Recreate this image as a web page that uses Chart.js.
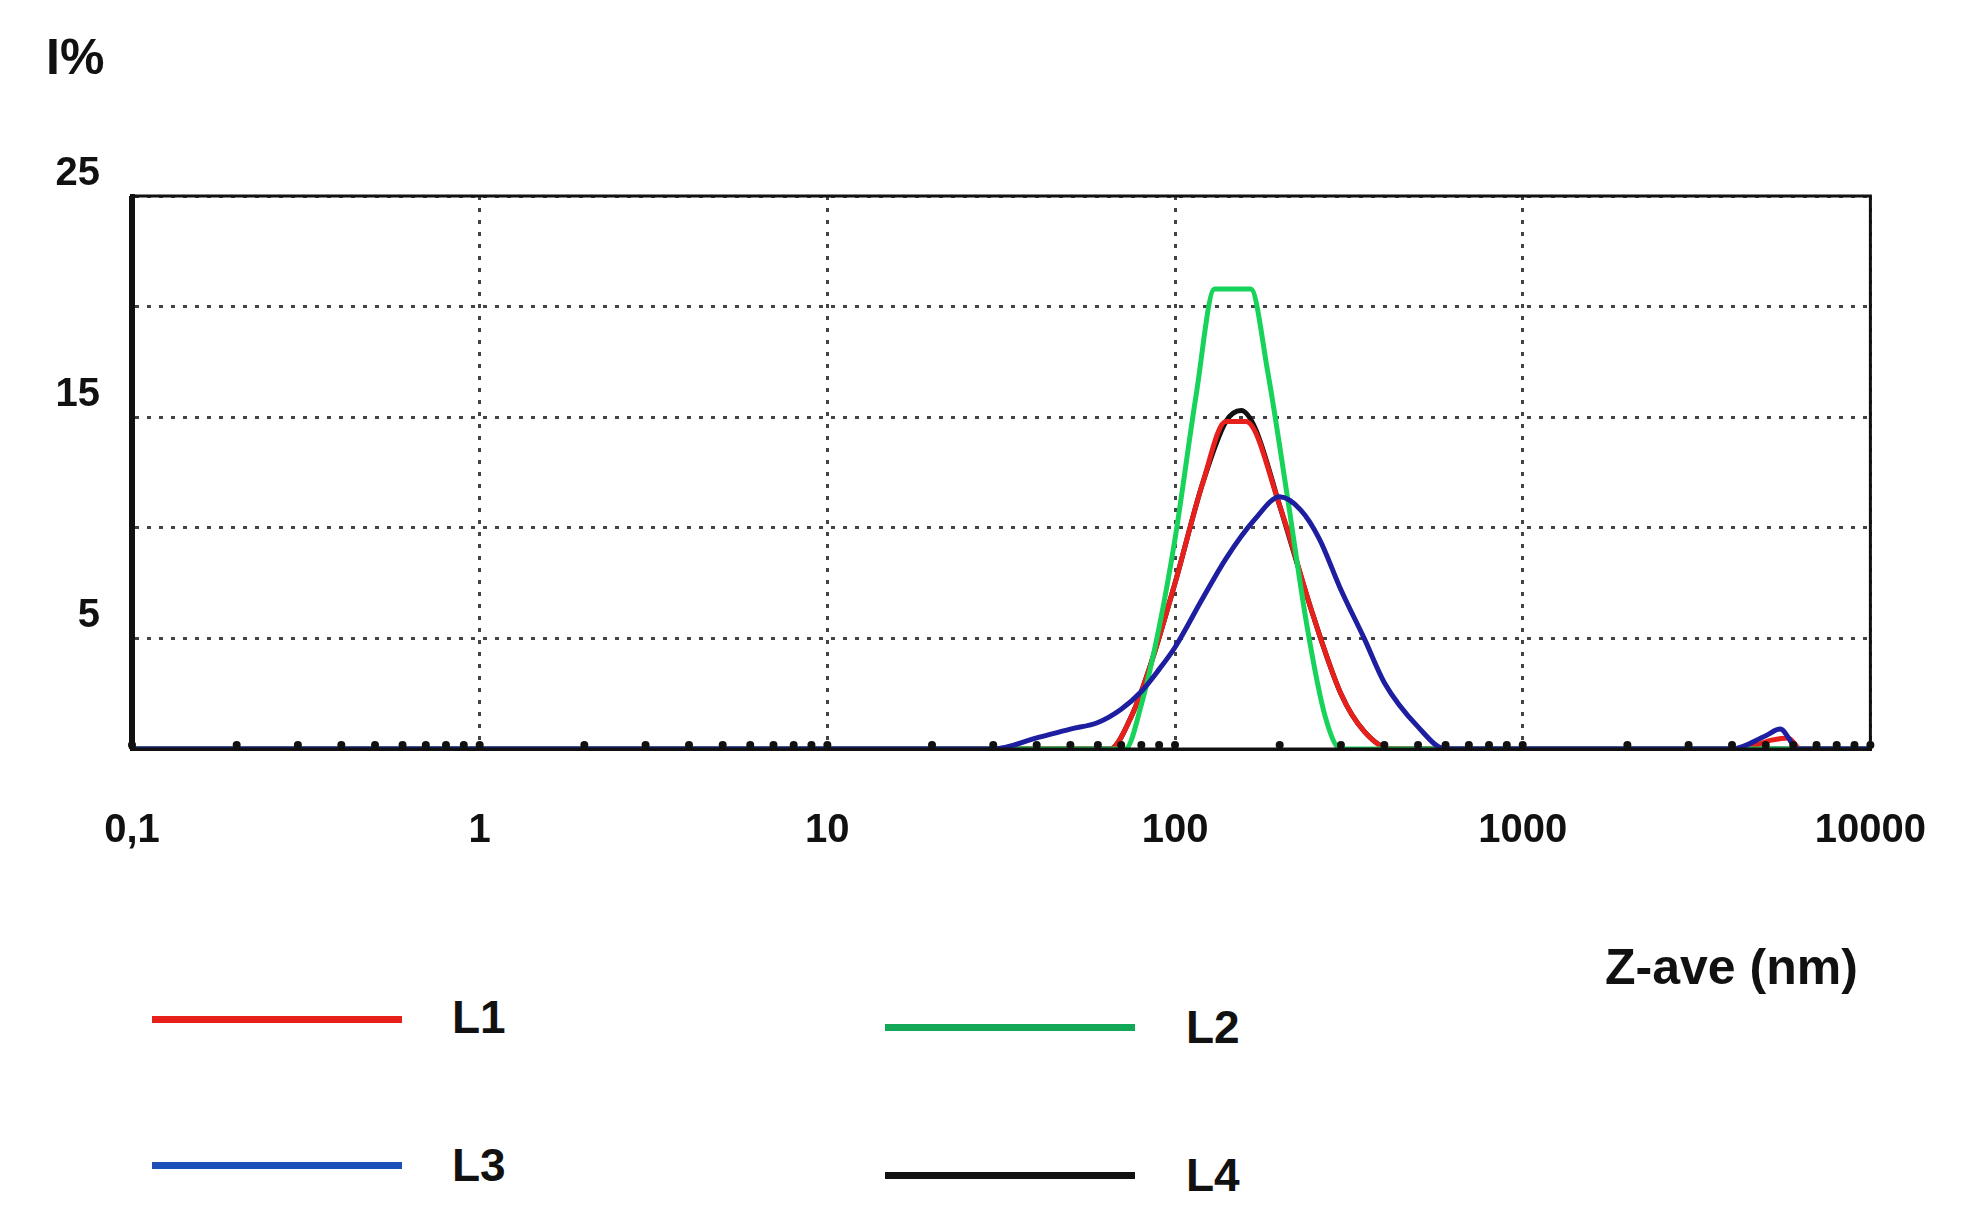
<!DOCTYPE html>
<html>
<head>
  <meta charset="UTF-8">
  <title>Z-ave distribution</title>
  <script src="https://cdn.jsdelivr.net/npm/chart.js"></script>
  <style>
    body { margin: 0; background: #fff; font-family: 'Liberation Sans', Arial, sans-serif; font-weight: bold; }
    #wrap { position: absolute; left: 0; top: 0; width: 1984px; height: 900px; }
    .lbl { position: absolute; font-size: 46px; color: #111; }
    .leg { position: absolute; height: 7px; width: 250px; }
  </style>
</head>
<body>
  <div id="wrap"><canvas id="c"></canvas></div>
  <div class="lbl" style="left:46px;top:28px;font-size:50px;">I%</div>
  <div class="lbl" style="left:1605px;top:938px;font-size:50px;">Z-ave (nm)</div>

  <div class="leg" style="left:152px;top:1016px;background:#e8201c"></div>
  <div class="lbl" style="left:452px;top:990px;">L1</div>
  <div class="leg" style="left:885px;top:1024px;background:#13a858"></div>
  <div class="lbl" style="left:1186px;top:1000px;">L2</div>
  <div class="leg" style="left:152px;top:1162px;background:#1d4fb8"></div>
  <div class="lbl" style="left:452px;top:1138px;">L3</div>
  <div class="leg" style="left:885px;top:1172px;background:#111"></div>
  <div class="lbl" style="left:1186px;top:1148px;">L4</div>

  <script>
    // sizes in nm, intensity in %
    const l1X = [0.1, 65, 75, 85, 100, 120, 140, 160, 200, 250, 300, 350, 420, 4200, 5200, 5800, 6300, 10000];
    const l1Y = [0, 0, 1.5, 3.8, 7.5, 12, 14.8, 14.8, 11, 6, 2.5, 0.8, 0, 0, 0.4, 0.5, 0, 0];
    const l2X = [0.1, 72, 80, 90, 100, 115, 130, 165, 185, 210, 240, 270, 300, 10000];
    const l2Y = [0, 0, 2, 5.5, 9.5, 16, 20.8, 20.8, 17, 11.5, 5.5, 1.5, 0, 0];
    const l3X = [0.1, 30, 40, 50, 60, 70, 80, 90, 100, 120, 140, 170, 200, 230, 260, 300, 350, 400, 500, 600, 4000, 5000, 5500, 6200, 10000];
    const l3Y = [0, 0, 0.5, 0.9, 1.2, 1.8, 2.6, 3.6, 4.6, 6.8, 8.6, 10.4, 11.4, 10.8, 9.5, 7.2, 5, 3, 1, 0, 0, 0.6, 0.9, 0, 0];
    const l4X = [0.1, 65, 75, 85, 100, 120, 140, 155, 170, 200, 250, 300, 350, 420, 10000];
    const l4Y = [0, 0, 1.5, 3.8, 7.5, 12, 14.8, 15.3, 14.5, 11, 6, 2.5, 0.8, 0, 0];
    const yTicks = [0, 5, 10, 15, 20, 25];
    const yLabels = { 25: '25', 15: '15', 5: '5' };

    const pts = (xs, ys) => xs.map((x, i) => ({ x: x, y: ys[i] }));
    const isMajor = v => Math.abs(Math.log10(v) - Math.round(Math.log10(v))) < 1e-6;

    const minorTicks = [];
    for (let e = -1; e < 4; e++) for (let m = 1; m < 10; m++) minorTicks.push(m * Math.pow(10, e));
    minorTicks.push(10000);

    const line = (label, data, color) => ({
      label, data, borderColor: color, borderWidth: 5, pointRadius: 0,
      tension: 0.35, cubicInterpolationMode: 'monotone', fill: false
    });

    new Chart(document.getElementById('c'), {
      type: 'line',
      data: {
        datasets: [
          line('L3', pts(l3X, l3Y), '#1d1fa0'),
          line('L2', pts(l2X, l2Y), '#17d35a'),
          line('L1', pts(l1X, l1Y), '#e8201c'),
          line('L4', pts(l4X, l4Y), '#111')
        ]
      },
      options: {
        responsive: true,
        maintainAspectRatio: false,
        animation: false,
        layout: { padding: { top: 196, right: 86, left: 0, bottom: 0 } },
        plugins: { legend: { display: false }, tooltip: { enabled: false } },
        scales: {
          x: {
            type: 'logarithmic', min: 0.1, max: 10000,
            afterBuildTicks: s => { s.ticks = minorTicks.map(v => ({ value: v })); },
            afterFit: s => { s.height = 151; },
            border: { color: '#111', width: 3, dash: [4, 8] },
            grid: {
              color: c => isMajor(c.tick.value) ? '#444' : 'rgba(0,0,0,0)',
              lineWidth: 3, tickLength: 0
            },
            ticks: {
              autoSkip: false, maxRotation: 0, padding: 58, color: '#111',
              font: { family: 'Liberation Sans', size: 40, weight: 'bold' },
              callback: v => isMajor(v) ? String(v).replace('.', ',') : ''
            }
          },
          y: {
            min: 0, max: 25,
            afterBuildTicks: s => { s.ticks = yTicks.map(v => ({ value: v })); },
            afterFit: s => { s.width = 132; },
            border: { color: '#111', width: 5, dash: [4, 8] },
            grid: { color: '#444', lineWidth: 3, tickLength: 0 },
            ticks: {
              padding: 32, labelOffset: -22, color: '#111',
              font: { family: 'Liberation Sans', size: 40, weight: 'bold' },
              callback: v => yLabels[v] || ''
            }
          }
        }
      },
      plugins: [{
        id: 'frame',
        afterDraw(chart) {
          const { ctx, chartArea: a } = chart;
          ctx.save();
          ctx.strokeStyle = '#111';
          ctx.lineWidth = 3;
          ctx.strokeRect(a.left, a.top, a.right - a.left, a.bottom - a.top);
          ctx.lineWidth = 6;
          ctx.beginPath();
          ctx.moveTo(a.left, a.top);
          ctx.lineTo(a.left, a.bottom);
          ctx.stroke();
          // minor dots along the baseline
          const xs = chart.scales.x;
          ctx.fillStyle = '#111';
          minorTicks.forEach(v => {
            ctx.beginPath();
            ctx.arc(xs.getPixelForValue(v), a.bottom - 4, 4, 0, Math.PI * 2);
            ctx.fill();
          });
          ctx.restore();
        }
      }]
    });
  </script>
</body>
</html>
